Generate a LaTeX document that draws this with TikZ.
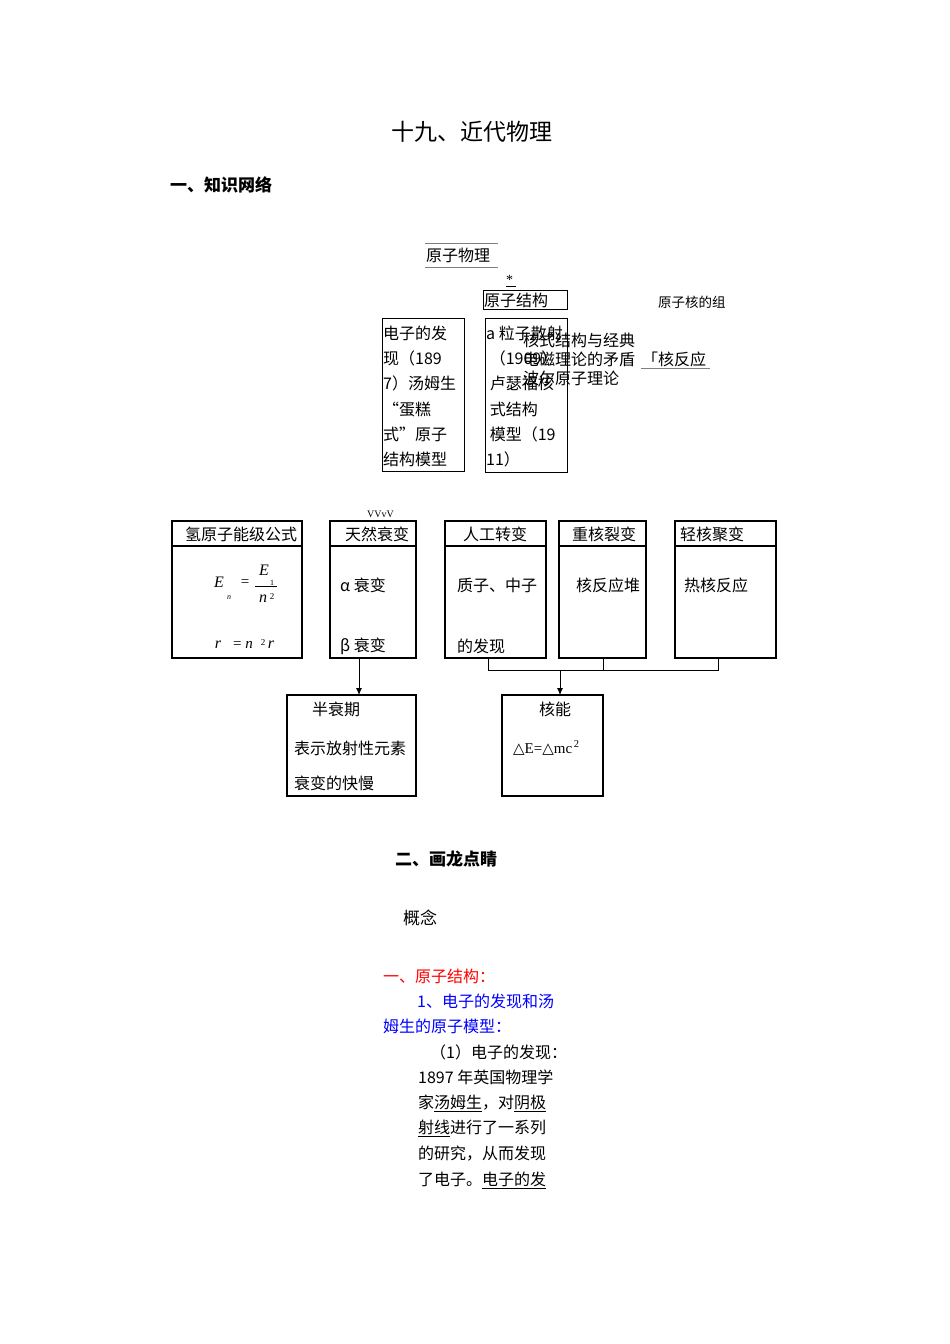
\documentclass[tikz,border=0pt]{standalone}
\usepackage{fontspec}
\newfontfamily\cjk{Noto Sans CJK SC}
\newfontfamily\ser{Liberation Serif}
\newfontfamily\djv{DejaVu Sans}
\usetikzlibrary{arrows.meta}
\begin{document}
\begin{tikzpicture}[x=1pt,y=-1pt,
  t/.style={inner sep=0pt,anchor=west,font=\cjk\fontsize{16}{16}\selectfont},
  bx/.style={draw,line width=0.8pt},
  tb/.style={draw,line width=2pt},
  ln/.style={line width=0.8pt},
  ar/.style={ln,-{Latex[length=7pt,width=6pt]}}]
\useasboundingbox (0,0) rectangle (950,1344);
\node[t,font=\cjk\fontsize{23}{23}\selectfont,anchor=center] (title) at (472,132) {十九、近代物理};
\node[t,font=\cjk\bfseries\fontsize{17}{17}\selectfont] (s1) at (170,185) {一、知识网络};
% top part
\draw[ln,gray] (425,243) -- (498,243);
\draw[ln,gray] (425,267) -- (498,267);
\node[t] (yzwl) at (426,255) {原子物理};
\node[t,font=\ser\fontsize{14}{14}\selectfont] (star) at (506,280) {*};
\draw[ln] (506,286) -- (516,286);
\node[bx,minimum width=84pt,minimum height=19pt,anchor=north west,inner sep=0pt] (yzjg) at (483,290) {};
\node[t] at (484,300) {原子结构};
\node[t,font=\cjk\fontsize{13.5}{13.5}\selectfont] (zc) at (658,302) {原子核的组};
\node[bx,minimum width=82pt,minimum height=153pt,anchor=north west,inner sep=0pt] (b1) at (382,318) {};
\foreach \s/\y in {电子的发/333,现（189/358,7）汤姆生/383,“蛋糕/409,式”原子/434,结构模型/459}
  \node[t] at (383,\y) {\s};
\node[bx,minimum width=82pt,minimum height=154pt,anchor=north west,inner sep=0pt] (b2) at (485,318) {};
\foreach \s/\y in {a 粒子散射/333,\ （1909）/358,\ 卢瑟福核/383,\ 式结构/409,\ 模型（19/434,11）/459}
  \node[t] at (486,\y) {\s};
\node[t] (h1) at (523,340) {核式结构与经典};
\node[t] (h2) at (523,359) {电磁理论的矛盾};
\node[t] (h3) at (642,359) {「核反应};
\draw[ln,gray] (641,368) -- (710,368);
\node[t] (h4) at (523,378) {波尔原子理论};
% bottom boxes
\node[t,font=\ser\fontsize{10}{10}\selectfont] at (367,514) {VVvV};
\foreach \n/\a/\b/\s in {c1/172/302/氢原子能级公式,c2/330/416/天然衰变,c3/445/546/人工转变,c4/559/646/重核裂变,c5/675/776/轻核聚变}{
  \draw[tb] (\a,521) rectangle (\b,658);
  \draw[tb] (\a,546) -- (\b,546);
  \coordinate (\n) at ({(\a+\b)/2},658);
}
\node[t] at (185,534) {氢原子能级公式};
\node[t] at (345,534) {天然衰变};
\node[t] at (463,534) {人工转变};
\node[t] at (572,534) {重核裂变};
\node[t] at (680,534) {轻核聚变};
\node[inner sep=0pt,font=\ser\itshape\fontsize{16}{16}\selectfont] at (219,582) {E};
\node[inner sep=0pt,font=\ser\itshape\fontsize{8}{8}\selectfont] at (229,598) {n};
\node[inner sep=0pt,font=\ser\fontsize{15}{15}\selectfont] at (245,583) {=};
\node[inner sep=0pt,font=\ser\itshape\fontsize{16}{16}\selectfont] at (264,570) {E};
\draw[ln] (255,586) -- (277,586);
\node[inner sep=0pt,font=\ser\fontsize{8}{8}\selectfont] at (272,583) {1};
\node[inner sep=0pt,font=\ser\itshape\fontsize{16}{16}\selectfont] at (263,599) {n};
\node[inner sep=0pt,font=\ser\fontsize{9}{9}\selectfont] at (272,597) {2};
\node[inner sep=0pt,font=\ser\itshape\fontsize{16}{16}\selectfont] at (218,645) {r};
\node[inner sep=0pt,font=\ser\fontsize{15}{15}\selectfont,anchor=west] at (233,645) {= \textit{n}};
\node[inner sep=0pt,font=\ser\fontsize{9}{9}\selectfont] at (263,643) {2};
\node[inner sep=0pt,font=\ser\itshape\fontsize{16}{16}\selectfont] at (271,645) {r};
\node[t] at (340,585) {α 衰变};
\node[t] at (340,646) {β 衰变};
\node[t] at (457,585) {质子、中子};
\node[t] at (457,646) {的发现};
\node[t] at (576,585) {核反应堆};
\node[t] at (684,585) {热核反应};
\draw[tb] (287,695) rectangle (416,796);
\coordinate (d1) at (359,695);
\node[t] at (312,709) {半衰期};
\node[t] at (294,748) {表示放射性元素};
\node[t] at (294,783) {衰变的快慢};
\draw[tb] (502,695) rectangle (603,796);
\coordinate (d2) at (560,695);
\node[t] at (539,709) {核能};
\node[t,font=\ser\fontsize{15}{15}\selectfont] at (513,748) {{\djv △}E={\djv △}mc\textsuperscript{\,2}};
\draw[ar] (359,658) -- (d1);
\draw[ln] (488,658) -- (488,670) -- (718,670) -- (718,658);
\draw[ln] (603,658) -- (603,670);
\draw[ar] (560,670) -- (d2);
% lower text
\node[t,font=\cjk\bfseries\fontsize{17}{17}\selectfont] at (395,859) {二、画龙点睛};
\node[t,font=\cjk\fontsize{17}{17}\selectfont] at (403,918) {概念};
\node[t,text=red] at (383,976) {一、原子结构：};
\node[t,text=blue] at (417,1001) {1、电子的发现和汤};
\node[t,text=blue] at (383,1026) {姆生的原子模型：};
\node[t] at (430,1052) {（1）电子的发现：};
\node[t] at (418,1077) {1897 年英国物理学};
\node[t] at (418,1103) {家\underline{汤姆生}，对\underline{阴极}};
\node[t] at (418,1128) {\underline{射线}进行了一系列};
\node[t] at (418,1154) {的研究，从而发现};
\node[t] at (418,1180) {了电子。\underline{电子的发}};
\end{tikzpicture}
\end{document}
